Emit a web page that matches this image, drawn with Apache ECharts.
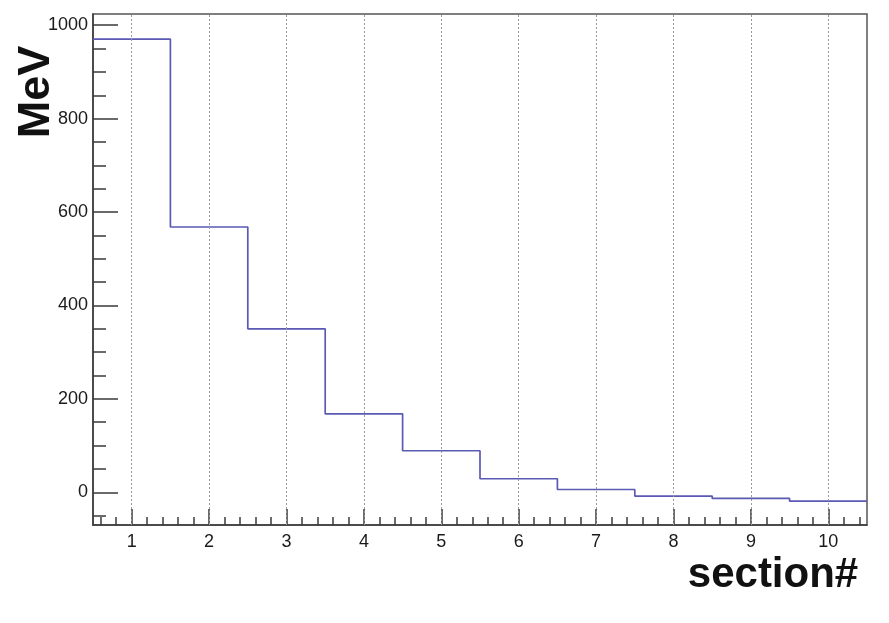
<!DOCTYPE html>
<html>
<head>
<meta charset="utf-8">
<script src="https://cdn.jsdelivr.net/npm/echarts@6/dist/echarts.min.js"></script>
<style>
  html, body { margin: 0; padding: 0; background: #fff; }
  #chart { width: 889px; height: 623px; }
</style>
</head>
<body>
<div id="chart"></div>
<script>
// bin centres (section number) and the energy in each bin
const sections = [1, 2, 3, 4, 5, 6, 7, 8, 9, 10]
const energy = [970, 568, 350, 168, 89, 29, 6, -8, -13, -19]

// axis ticks
const xMajor = [1, 2, 3, 4, 5, 6, 7, 8, 9, 10]
const yMajor = [0, 200, 400, 600, 800, 1000]

const xMin = 0.5, xMax = 10.5
const yMin = -70, yMax = 1024

// minor ticks: every 0.2 on x, every 50 on y
let xMinor = []
for (let i = 3; i <= 52; i++) {
  let v = +(i * 0.2).toFixed(1)
  if (v > xMin && v < xMax && !xMajor.includes(v)) xMinor.push(v)
}
let yMinor = []
for (let v = -50; v < yMax; v += 50) {
  if (!yMajor.includes(v)) yMinor.push(v)
}

// histogram outline: left edge of every bin, plus the right edge of the last one
let steps = []
for (let i = 0; i < sections.length; i++) {
  steps.push([sections[i] - 0.5, energy[i]])
}
steps.push([sections[sections.length - 1] + 0.5, energy[energy.length - 1]])

const axisColor = '#3a3a3a'
const labelStyle = {
  color: '#1a1a1a',
  fontFamily: 'Liberation Sans',
  fontSize: 18,
  formatter: v => String(v)
}

let myChart = echarts.init(document.getElementById('chart'))
myChart.setOption({
  animation: false,
  backgroundColor: '#fff',
  grid: {
    left: 93,
    right: 22,
    top: 14,
    bottom: 98,
    show: true,
    borderColor: '#555',
    borderWidth: 1.5,
    backgroundColor: 'transparent'
  },
  xAxis: [
    {
      type: 'value',
      position: 'bottom',
      min: xMin,
      max: xMax,
      axisLine: { show: true, onZero: false, lineStyle: { color: axisColor, width: 1.5 } },
      axisTick: {
        show: true,
        inside: true,
        length: 16,
        customValues: xMajor,
        lineStyle: { color: axisColor, width: 1.5 }
      },
      axisLabel: {
        show: true,
        customValues: xMajor,
        margin: 8,
        ...labelStyle
      },
      splitLine: { show: false }
    },
    {
      type: 'value',
      position: 'bottom',
      min: xMin,
      max: xMax,
      axisLine: { show: false, onZero: false },
      axisTick: {
        show: true,
        inside: true,
        length: 8,
        customValues: xMinor,
        lineStyle: { color: axisColor, width: 1.5 }
      },
      axisLabel: { show: false },
      splitLine: { show: false }
    }
  ],
  yAxis: [
    {
      type: 'value',
      position: 'left',
      min: yMin,
      max: yMax,
      axisLine: { show: true, onZero: false, lineStyle: { color: axisColor, width: 1.5 } },
      axisTick: {
        show: true,
        inside: true,
        length: 25,
        customValues: yMajor,
        lineStyle: { color: axisColor, width: 1.5 }
      },
      axisLabel: {
        show: true,
        customValues: yMajor,
        margin: 5,
        ...labelStyle
      },
      splitLine: { show: false }
    },
    {
      type: 'value',
      position: 'left',
      min: yMin,
      max: yMax,
      axisLine: { show: false, onZero: false },
      axisTick: {
        show: true,
        inside: true,
        length: 13,
        customValues: yMinor,
        lineStyle: { color: axisColor, width: 1.5 }
      },
      axisLabel: { show: false },
      splitLine: { show: false }
    }
  ],
  series: [
    {
      type: 'line',
      step: 'end',
      xAxisIndex: 0,
      yAxisIndex: 0,
      data: steps,
      showSymbol: false,
      symbol: 'none',
      lineStyle: { color: '#5a5ab4', width: 1.7 },
      // dotted vertical grid at each section
      markLine: {
        silent: true,
        symbol: 'none',
        label: { show: false },
        lineStyle: { color: '#999', type: [2, 2], width: 1 },
        data: xMajor.map(v => ({ xAxis: v }))
      },
      z: 3
    }
  ],
  graphic: [
    {
      type: 'text',
      x: 37,
      y: 92,
      rotation: Math.PI / 2,
      style: {
        text: 'MeV',
        fontFamily: 'Liberation Sans',
        fontWeight: 'bold',
        fontSize: 45,
        fill: '#111',
        align: 'center',
        verticalAlign: 'middle'
      }
    },
    {
      type: 'text',
      x: 773,
      y: 575,
      style: {
        text: 'section#',
        fontFamily: 'Liberation Sans',
        fontWeight: 'bold',
        fontSize: 42,
        fill: '#111',
        align: 'center',
        verticalAlign: 'middle'
      }
    }
  ]
})
</script>
</body>
</html>
